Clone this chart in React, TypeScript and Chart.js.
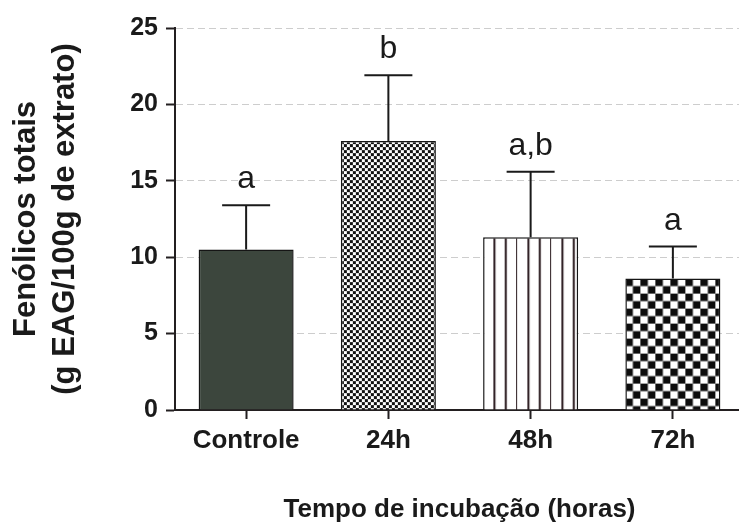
import React, { useEffect, useRef } from "react";
import { Chart, registerables } from "chart.js";

Chart.register(...registerables);

const categories = ["Controle", "24h", "48h", "72h"];
const means = [10.5, 17.6, 11.3, 8.6];
const errors = [2.9, 4.3, 4.3, 2.1];
const letters = ["a", "b", "a,b", "a"];
const yTicks = [0, 5, 10, 15, 20, 25];

const FONT = "'Liberation Sans', Arial, Helvetica, sans-serif";
const INK = "#231f20";

function makeTile(w: number, h: number, draw: (c: CanvasRenderingContext2D) => void) {
  const cv = document.createElement("canvas");
  cv.width = w;
  cv.height = h;
  const c = cv.getContext("2d")!;
  c.fillStyle = "#ffffff";
  c.fillRect(0, 0, w, h);
  draw(c);
  return cv;
}

export default function App() {
  const ref = useRef<HTMLCanvasElement | null>(null);

  useEffect(() => {
    const canvas = ref.current!;
    const ctx = canvas.getContext("2d")!;

    const fine = ctx.createPattern(
      makeTile(6, 6, (c) => {
        c.fillStyle = "#111";
        c.fillRect(0, 0, 3, 3);
        c.fillRect(3, 3, 3, 3);
      }),
      "repeat"
    )!;
    const stripes = ctx.createPattern(
      makeTile(34, 4, (c) => {
        c.fillStyle = "#2a1a1e";
        [11.33, 22.67, 34].forEach((x) => c.fillRect(x - 1, 0, 2, 4));
        c.fillRect(-1, 0, 1, 4);
      }),
      "repeat"
    )!;
    const coarse = ctx.createPattern(
      makeTile(15, 15, (c) => {
        c.fillStyle = "#0d0d0d";
        c.fillRect(0, 0, 7.5, 7.5);
        c.fillRect(7.5, 7.5, 7.5, 7.5);
      }),
      "repeat"
    )!;
    const fills: (string | CanvasPattern)[] = ["#3c463d", fine, stripes, coarse];

    const alignPatterns = {
      id: "alignPatterns",
      beforeDatasetsDraw(chart: any) {
        const meta = chart.getDatasetMeta(0);
        meta.data.forEach((el: any, i: number) => {
          const f = fills[i];
          if (typeof f !== "string") {
            const left = el.x - el.width / 2;
            f.setTransform(new DOMMatrix([1, 0, 0, 1, left, el.y]));
          }
        });
      },
    };

    const errorBars = {
      id: "errorBars",
      afterDatasetsDraw(chart: any) {
        const c = chart.ctx;
        const xs = chart.scales.x;
        const ys = chart.scales.y;
        c.save();
        c.strokeStyle = "#1a1a1a";
        c.lineWidth = 2;
        means.forEach((m, i) => {
          const x = xs.getPixelForValue(i);
          const y0 = ys.getPixelForValue(m);
          const y1 = ys.getPixelForValue(m + errors[i]);
          c.beginPath();
          c.moveTo(x, y0);
          c.lineTo(x, y1);
          c.moveTo(x - 24, y1);
          c.lineTo(x + 24, y1);
          c.stroke();
          c.fillStyle = "#1a1a1a";
          c.font = `32px ${FONT}`;
          c.textAlign = "center";
          c.textBaseline = "alphabetic";
          c.fillText(letters[i], x, y1 - 17);
        });
        c.restore();
      },
    };

    const chart = new Chart(canvas, {
      type: "bar",
      data: {
        labels: categories,
        datasets: [
          {
            data: means,
            backgroundColor: fills as any,
            borderColor: "#151515",
            borderWidth: 1.5,
            borderSkipped: "bottom",
            categoryPercentage: 1,
            barPercentage: 0.668,
          },
        ],
      },
      options: {
        responsive: false,
        animation: false,
        devicePixelRatio: 1,
        layout: { padding: { left: 0, right: 6, top: 28, bottom: 0 } },
        plugins: { legend: { display: false }, tooltip: { enabled: false } },
        scales: {
          x: {
            offset: true,
            afterFit: (s: any) => {
              s.height = 121;
            },
            grid: {
              display: true,
              drawOnChartArea: false,
              drawTicks: true,
              offset: false,
              tickLength: 9,
              tickWidth: 2,
              tickColor: INK,
            },
            border: { display: true, color: INK, width: 2 },
            ticks: {
              color: "#1a1a1a",
              font: { family: FONT, size: 26, weight: "bold" },
              padding: 6,
              maxRotation: 0,
            },
            title: {
              display: true,
              text: "Tempo de incubação (horas)",
              color: "#1a1a1a",
              font: { family: FONT, size: 26, weight: "bold" },
              padding: { top: 0, bottom: 6 },
            },
          },
          y: {
            min: 0,
            max: 25,
            afterFit: (s: any) => {
              s.width = 175;
            },
            afterBuildTicks: (s: any) => {
              s.ticks = yTicks.map((v) => ({ value: v }));
            },
            grid: {
              display: true,
              drawTicks: true,
              tickLength: 9,
              tickWidth: 2,
              tickColor: INK,
              tickBorderDash: [],
              lineWidth: 1,
              color: (c: any) => (c.tick && c.tick.value === 0 ? "rgba(0,0,0,0)" : "#cdcdcd"),
            },
            border: { display: true, color: INK, width: 2, dash: [7, 4] },
            ticks: {
              color: "#1a1a1a",
              font: { family: FONT, size: 25, weight: "bold" },
              padding: 8,
            },
            title: {
              display: true,
              text: ["Fenólicos totais", "(g EAG/100g de extrato)"],
              color: "#1a1a1a",
              font: { family: FONT, size: 31, weight: "bold", lineHeight: 1.25 },
              padding: { top: 7, bottom: 0 },
            },
          },
        },
      },
      plugins: [alignPatterns, errorBars],
    });

    return () => chart.destroy();
  }, []);

  return (
    <div
      style={{
        position: "absolute",
        left: 0,
        top: 0,
        width: 739,
        height: 531,
        overflow: "hidden",
        background: "#fff",
      }}
    >
      <canvas ref={ref} width={750} height={531} style={{ display: "block" }} />
    </div>
  );
}
